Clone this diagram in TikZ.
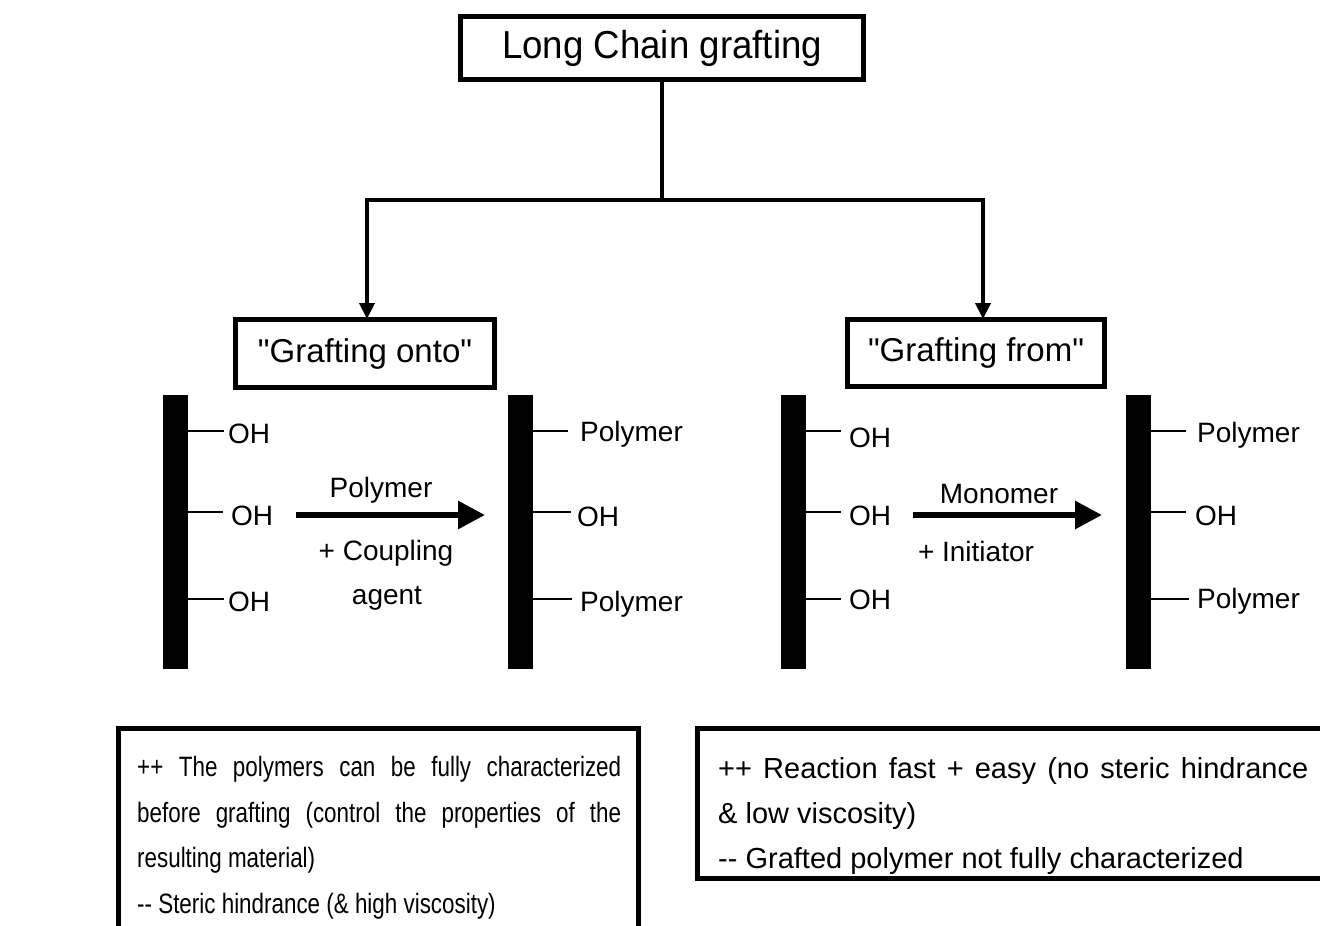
\documentclass[tikz,border=0pt]{standalone}
\usepackage{fontspec}
\setmainfont{Liberation Sans}
\newfontfamily\condfont[FakeStretch=0.8]{Liberation Sans}
\newfontfamily\titlefont[FakeStretch=0.94]{Liberation Sans}
\newfontfamily\quotefont[Ligatures=TeXOff]{Liberation Sans}
\usetikzlibrary{arrows.meta}
\begin{document}
\begin{tikzpicture}[x=1pt,y=-1pt,
  box/.style={draw, line width=5pt, inner sep=0pt, rectangle},
  conn/.style={line width=4pt, line join=miter},
  downarrow/.style={conn, -{Triangle[length=16pt,width=15pt]}},
  barnode/.style={fill=black, draw=none, inner sep=0pt, minimum width=25pt, minimum height=274pt},
  tickline/.style={line width=1.5pt},
  lbl/.style={font=\fontsize{28}{33}\selectfont, inner sep=0pt, anchor=base west},
  rlbl/.style={font=\fontsize{28}{33}\selectfont, inner sep=0pt, anchor=base},
  rxn/.style={line width=6pt, -{Triangle[length=27pt,width=27pt]}},
  prosbox/.style={draw, line width=5pt},
]
\clip (0,0) rectangle (1320,926);
\fill[white] (0,0) rectangle (1320,926);

% title and branches
\node[box, minimum width=403pt, minimum height=63pt, font=\titlefont\fontsize{39}{44}\selectfont] (title) at (662,48) {\raisebox{-3pt}{Long Chain grafting}};
\node[box, minimum width=259pt, minimum height=68pt, font=\quotefont\fontsize{33}{40}\selectfont] (onto) at (365,353.5) {\raisebox{-4pt}{"Grafting onto"}};
\node[box, minimum width=257pt, minimum height=67pt, font=\quotefont\fontsize{33}{40}\selectfont] (from) at (976,353) {\raisebox{-4pt}{"Grafting from"}};
\coordinate (split) at (title.south |- 0,200);
\draw[conn] (title.south) -- (split);
\draw[downarrow] (split) -| ([xshift=2pt,yshift=-2pt]onto.north);
\draw[downarrow] (split) -| ([xshift=7pt,yshift=-2pt]from.north);

% grafting onto panel
\node[barnode] (b1) at (175.5,532) {};
\node[barnode] (b2) at (520.5,532) {};
\draw[tickline] (b1.east |- 0,431) -- (224,431);
\draw[tickline] (b1.east |- 0,512) -- (223,512);
\draw[tickline] (b1.east |- 0,599) -- (224,599);
\node[lbl] (o1) at (228,443) {OH};
\node[lbl] (o2) at (231,525) {OH};
\node[lbl] (o3) at (228,611) {OH};
\draw[tickline] (b2.east |- 0,431) -- (568,431);
\draw[tickline] (b2.east |- 0,512) -- (571,512);
\draw[tickline] (b2.east |- 0,599) -- (572,599);
\node[lbl] (p1) at (580,441) {Polymer};
\node[lbl] (o4) at (577,526) {OH};
\node[lbl] (p2) at (580,611) {Polymer};
\coordinate (a1s) at (296,515);
\coordinate (a1e) at (485,515);
\draw[rxn] (a1s) -- (a1e);
\node[rlbl] (l1) at (381,497) {Polymer};
\node[rlbl] (l2) at (386,560) {+ Coupling};
\node[rlbl] (l3) at (387,604) {agent};

% grafting from panel
\node[barnode] (b3) at (793.5,532) {};
\node[barnode] (b4) at (1138,532) {};
\draw[tickline] (b3.east |- 0,431) -- (841,431);
\draw[tickline] (b3.east |- 0,512) -- (841,512);
\draw[tickline] (b3.east |- 0,599) -- (841,599);
\node[lbl] (o5) at (849,447) {OH};
\node[lbl] (o6) at (849,525) {OH};
\node[lbl] (o7) at (849,609) {OH};
\draw[tickline] (b4.east |- 0,431) -- (1186,431);
\draw[tickline] (b4.east |- 0,512) -- (1186,512);
\draw[tickline] (b4.east |- 0,599) -- (1189,599);
\node[lbl] (p3) at (1197,442) {Polymer};
\node[lbl] (o8) at (1195,525) {OH};
\node[lbl] (p4) at (1197,608) {Polymer};
\coordinate (a2s) at (913,515);
\coordinate (a2e) at (1102,515);
\draw[rxn] (a2s) -- (a2e);
\node[rlbl] (l4) at (999,503) {Monomer};
\node[rlbl] (l5) at (976,561) {+ Initiator};

% pros / cons boxes
\draw[prosbox] (118,728) rectangle (638,960);
\draw[prosbox] (697,728) rectangle (1340,878);
\node[anchor=base west, inner sep=0pt, align=left, font=\condfont\fontsize{28}{45.5}\selectfont] (prosL) at (137,913)
  {\makebox[484pt][s]{++ The polymers can be fully characterized}\\
   \makebox[484pt][s]{before grafting (control the properties of the}\\
   resulting material)\\
   -{}- Steric hindrance (\& high viscosity)};
\node[anchor=base west, inner sep=0pt, align=left, font=\fontsize{29}{45}\selectfont] (prosR) at (718,868)
  {\makebox[590pt][s]{++ Reaction fast + easy (no steric hindrance}\\
   \& low viscosity)\\
   -{}- Grafted polymer not fully characterized};
\end{tikzpicture}
\end{document}
